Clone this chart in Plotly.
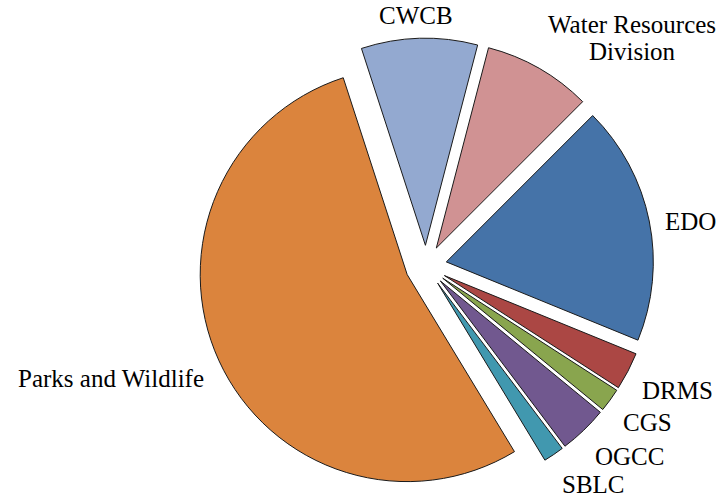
import math
import plotly.graph_objects as go

labels = ["CWCB", "Water Resources<br>Division", "EDO", "DRMS", "CGS", "OGCC", "SBLC", "Parks and Wildlife"]
values = [9.06, 8.44, 18.67, 2.94, 1.83, 3.78, 1.61, 53.67]
colors = ["#93a9d0", "#d09293", "#4573a8", "#ab4744", "#89a54e", "#71588f", "#4198af", "#db843d"]

W, H = 727, 497
ROTATION = -18
PULL = 0.1
DOM_X = [0.2728, 0.8992]
DOM_Y = [0.0066, 0.923]
FONT = "Liberation Serif"
FSIZE = 25
LINE_GAP = 26.6
LABEL_GAP = 16

fig = go.Figure(go.Pie(
    labels=labels,
    values=values,
    sort=False,
    direction="clockwise",
    rotation=ROTATION,
    pull=[PULL] * len(values),
    marker=dict(colors=colors, line=dict(color="#1a1a1a", width=1)),
    textinfo="none",
    automargin=False,
    hoverinfo="label+value",
    domain=dict(x=DOM_X, y=DOM_Y),
    showlegend=False,
))

# Times-Roman advance widths (1/1000 em) used to size labels for placement
CW = {" ": 250, "A": 722, "B": 667, "C": 667, "D": 722, "E": 611, "G": 722, "L": 611,
      "M": 889, "O": 722, "P": 556, "R": 667, "S": 556, "W": 944, "a": 444, "c": 444,
      "d": 500, "e": 444, "f": 333, "i": 278, "k": 500, "l": 278, "n": 500, "o": 500,
      "r": 333, "s": 389, "t": 278, "u": 500, "v": 500}


def text_w(s):
    return sum(CW.get(ch, 500) for ch in s) * FSIZE / 1000.0


# pie geometry in pixels (mirrors plotly's pie layout)
box_w = W * (DOM_X[1] - DOM_X[0])
box_h = H * (DOM_Y[1] - DOM_Y[0])
R = min(box_w, box_h) / 2 / (1 + PULL)
cx = W * (DOM_X[0] + DOM_X[1]) / 2
cy = H * (1 - (DOM_Y[0] + DOM_Y[1]) / 2)
dist = R * (1 + PULL) + LABEL_GAP

total = sum(values)
cum = 0.0
annotations = []
for lab, v in zip(labels, values):
    mid = ROTATION + (cum + v / 2) / total * 360.0
    cum += v
    th = math.radians(mid)
    s, c = math.sin(th), -math.cos(th)
    lines = lab.split("<br>")
    w = max(text_w(t) for t in lines)
    hh = (len(lines) - 1) * LINE_GAP / 2 + FSIZE / 2
    sx = max(-1.0, min(1.0, 3 * s))
    px = cx + dist * s + w / 2 * sx
    py = cy + dist * c + hh * c + 5
    for j, t in enumerate(lines):
        ly = py + (j - (len(lines) - 1) / 2) * LINE_GAP + 1
        annotations.append(dict(
            text=t, x=px / W, y=1 - ly / H, xref="paper", yref="paper",
            xanchor="center", yanchor="middle", showarrow=False,
            font=dict(family=FONT, size=FSIZE, color="#000000"),
        ))

fig.update_layout(
    width=W,
    height=H,
    margin=dict(l=0, r=0, t=0, b=0, autoexpand=False),
    paper_bgcolor="#ffffff",
    plot_bgcolor="#ffffff",
    showlegend=False,
    annotations=annotations,
)

fig.write_html("out.html")
